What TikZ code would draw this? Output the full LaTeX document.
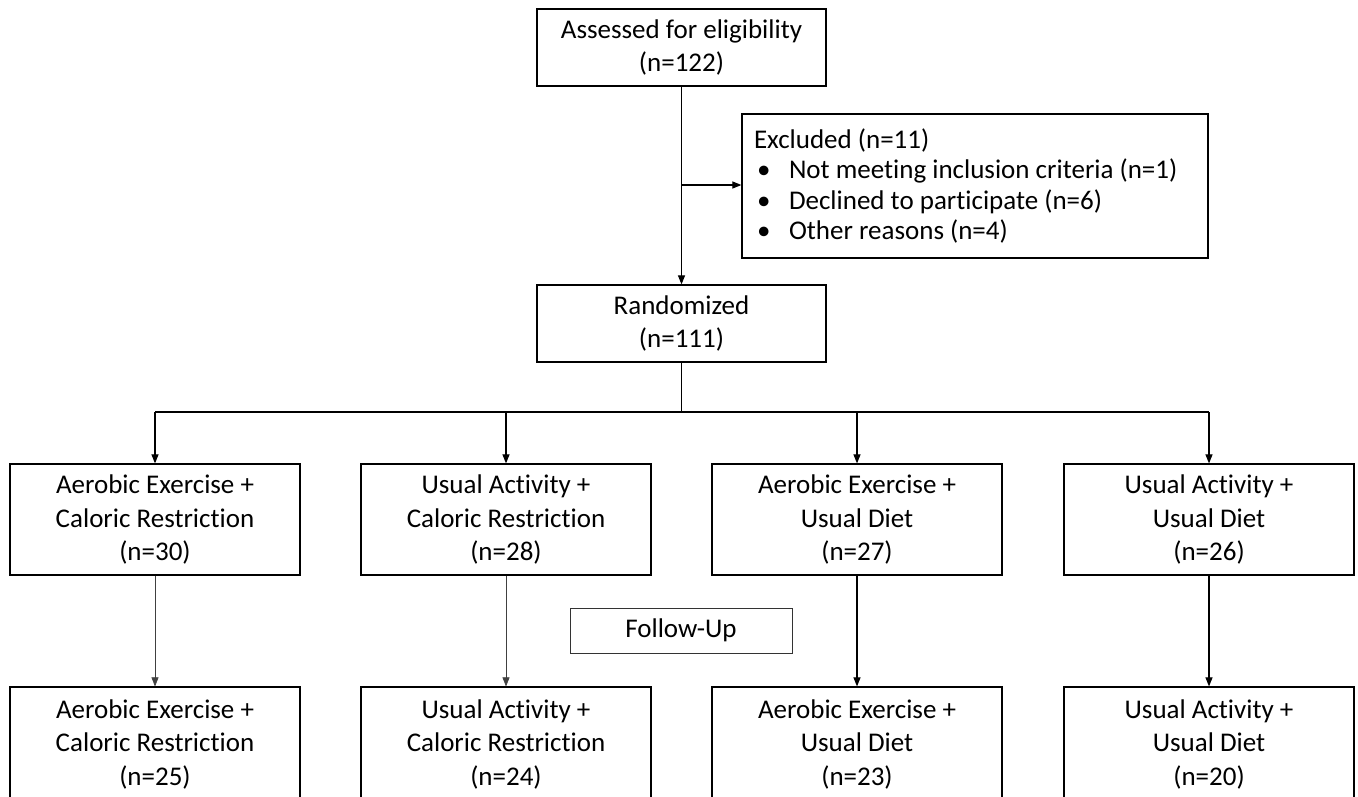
\documentclass[tikz,border=0pt]{standalone}
\usepackage{fontspec}
\setmainfont{Carlito}[Ligatures=NoCommon]
\usetikzlibrary{arrows.meta}
\begin{document}
\begin{tikzpicture}[x=1pt,y=-1pt,
  box/.style={draw, line width=1.2pt, rectangle, inner sep=0pt, align=center,
    font=\fontsize{27}{33.5}\selectfont},
  grp/.style={box, minimum width=290pt, minimum height=111pt},
  arr/.style={line width=1.1pt, -{Triangle[length=9pt,width=7pt]}},
  thinarr/.style={line width=0.6pt, draw=black!75, -{Triangle[length=9pt,width=7pt]}},
  ln/.style={line width=1.2pt}]
\useasboundingbox (0,0) rectangle (1358,796);
\node[box, minimum width=289pt, minimum height=77pt] (top) at (681.5,47.5)
  {Assessed for eligibility\\(n=122)};
\node[box, minimum width=466pt, minimum height=144pt, align=left, inner sep=0pt,
  font=\fontsize{27}{30.5}\selectfont] (excl) at (975,186)
  {\parbox{442pt}{Excluded (n=11)\\
  \makebox[35pt][l]{\hspace{3pt}\textbullet}Not meeting inclusion criteria (n=1)\\
  \makebox[35pt][l]{\hspace{3pt}\textbullet}Declined to participate (n=6)\\
  \makebox[35pt][l]{\hspace{3pt}\textbullet}Other reasons (n=4)}};
\node[box, minimum width=289pt, minimum height=77pt] (rand) at (681.5,323.5)
  {Randomized\\(n=111)};
\node[grp] (a1) at (155,519.5) {Aerobic Exercise +\\Caloric Restriction\\(n=30)};
\node[grp] (a2) at (506,519.5) {Usual Activity +\\Caloric Restriction\\(n=28)};
\node[grp] (a3) at (857,519.5) {Aerobic Exercise +\\Usual Diet\\(n=27)};
\node[grp] (a4) at (1209,519.5) {Usual Activity +\\Usual Diet\\(n=26)};
\node[box, line width=0.8pt, draw=black!80, minimum width=222pt, minimum height=45pt] (fu) at (681,630.5) {Follow-Up};
\node[grp, minimum height=114pt] (b1) at (155,744) {Aerobic Exercise +\\Caloric Restriction\\(n=25)};
\node[grp, minimum height=114pt] (b2) at (506,744) {Usual Activity +\\Caloric Restriction\\(n=24)};
\node[grp, minimum height=114pt] (b3) at (857,744) {Aerobic Exercise +\\Usual Diet\\(n=23)};
\node[grp, minimum height=114pt] (b4) at (1209,744) {Usual Activity +\\Usual Diet\\(n=20)};
% connectors
\draw[arr] (top) -- (rand);
\coordinate (ex) at (681.5,185);
\draw[arr] (ex) -- (ex -| excl.west);
\coordinate (split) at (681.5,412);
\draw[ln] (rand) -- (split);
\draw[ln] (a1.north |- split) -- (a4.north |- split);
\foreach \n in {a1,a2,a3,a4} \draw[arr] (\n.north |- split) -- (\n.north);
\draw[thinarr] (a1) -- (b1);
\draw[thinarr] (a2) -- (b2);
\draw[arr] (a3) -- (b3);
\draw[arr] (a4) -- (b4);
\end{tikzpicture}
\end{document}
